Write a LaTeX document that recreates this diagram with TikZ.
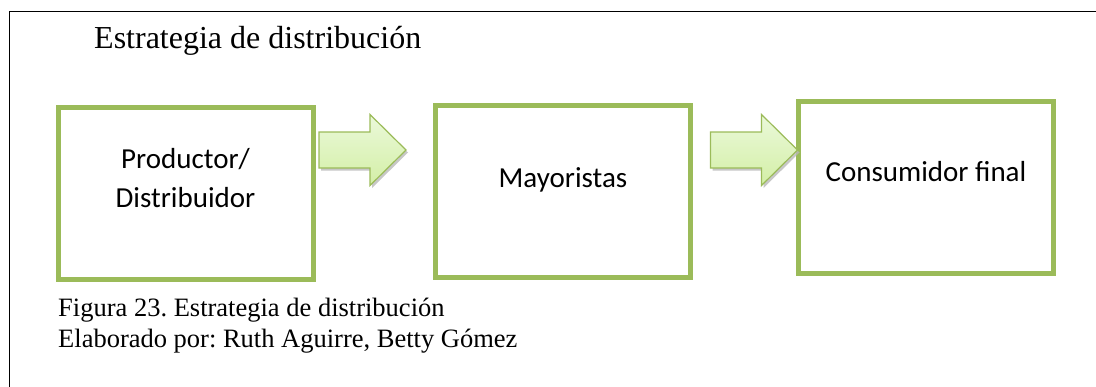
\documentclass[tikz,border=0pt]{standalone}
\usepackage{fontspec}
\setmainfont{Liberation Serif}
\newfontfamily\calibri{Carlito}
\frenchspacing
\definecolor{verdeoliva}{HTML}{9BBB59}
\definecolor{verdeclaro}{HTML}{EBF9DA}
\definecolor{verdemedio}{HTML}{D3EFA6}
\tikzset{
 caja/.style={draw=verdeoliva,line width=5pt,minimum width=255pt,minimum height=172pt,inner sep=0pt},
 rotulo/.style={font=\calibri\fontsize{29}{35}\selectfont,anchor=base,inner sep=0pt},
 titulo/.style={font=\fontsize{32}{38}\selectfont,anchor=base west,inner sep=0pt},
 pie/.style={font=\fontsize{26.5}{30}\selectfont,anchor=base west,inner sep=0pt},
 flecha/.pic={
  \fill[gray!55,opacity=0.8] (2,2.5)--(53,2.5)--(53,-33)--(89,2.5)--(53,38)--(53,20.5)--(2,20.5)--cycle;
  \path[top color=verdeclaro,bottom color=verdemedio,draw=verdeoliva,line width=1.2pt]
   (0,-18)--(51,-18)--(51,-35.5)--(87,0)--(51,35.5)--(51,18)--(0,18)--cycle;
 }
}
\begin{document}
\begin{tikzpicture}[x=1pt,y=-1pt]
 \useasboundingbox (0,0) rectangle (1096,386);
 \clip (0,0) rectangle (1096,386);
 % marco
 \draw[line width=1.6pt] (9.5,400) |- (1110,11.5);
 \node[titulo] (tit) at (94,48.5) {Estrategia de distribución};
 % cajas
 \node[caja] (prod) at (185.5,193.5) {};
 \node[caja] (may) at (563,191.5) {};
 \node[caja] (cons) at (926,187) {};
 \node[rotulo] (prodA) at ([yshift=25.5pt]prod.center) {Productor/};
 \node[rotulo] (prodB) at ([yshift=-13.5pt]prod.center) {Distribuidor};
 \node[rotulo] (mayT) at ([yshift=4.5pt]may.center) {Mayoristas};
 \node[rotulo] (consT) at ([yshift=6pt]cons.center) {Consumidor final};
 % flechas
 \pic at (319,150) {flecha};
 \pic at (710.5,150) {flecha};
 % pie de figura
 \node[pie] (fig) at (58,316.5) {Figura 23. Estrategia de distribución};
 \node[pie] (elab) at (58,347) {Elaborado por: Ruth Aguirre, Betty Gómez};
\end{tikzpicture}
\end{document}
